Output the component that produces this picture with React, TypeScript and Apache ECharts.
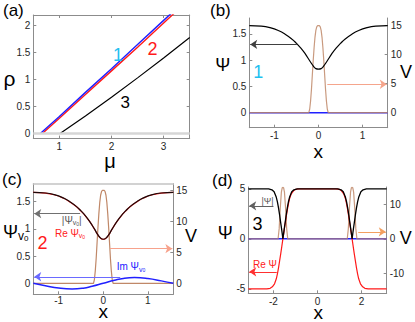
import React, { useEffect, useRef } from "react";
import * as echarts from "echarts";

const FONT = "'Liberation Sans', Arial, Helvetica, sans-serif";
const AXIS = "#8c8c8c";
const LABEL = "#262626";
const VCOL = "#c08868";

// ---------- (a) rho versus mu ----------
const muTicks = [1, 2, 3];
const rhoTicks = [0, 0.5, 1, 1.5, 2];
const branch1 = [[0.64, 0], [1, 0.31], [1.5, 0.76], [2, 1.2], [2.5, 1.65], [3, 2.1], [3.3, 2.37]];
const branch2 = [[0.68, 0], [1, 0.28], [1.5, 0.72], [2, 1.16], [2.5, 1.6], [3, 2.05], [3.3, 2.32]];
const branch3 = [[1.02, 0], [1.5, 0.32], [2, 0.67], [2.5, 1.03], [3, 1.4], [3.5, 1.78]];

// ---------- (b) ----------
const xTicksBC = [-1, 0, 1];
const psiTicksBC = [0, 0.5, 1, 1.5];
const vTicksBC = [0, 5, 10, 15];
const absPsiB = [
  [-1.5708, 1.66], [-1.3, 1.65], [-1.1, 1.62], [-0.9, 1.56], [-0.75, 1.49], [-0.6, 1.4], [-0.5, 1.32],
  [-0.4, 1.23], [-0.3, 1.12], [-0.2, 0.99], [-0.12, 0.89], [-0.06, 0.84], [0, 0.83], [0.06, 0.84],
  [0.12, 0.89], [0.2, 0.99], [0.3, 1.12], [0.4, 1.23], [0.5, 1.32], [0.6, 1.4], [0.75, 1.49],
  [0.9, 1.56], [1.1, 1.62], [1.3, 1.65], [1.5708, 1.66],
];
const imPsiB = [[-1.5708, 0], [1.5708, 0]];
const vCentre = [
  [-1.5708, 0], [-0.22, 0], [-0.2, 0.6], [-0.18, 2.0], [-0.16, 4.0], [-0.14, 6.5], [-0.12, 9.0],
  [-0.1, 11.2], [-0.08, 13.0], [-0.06, 14.2], [-0.04, 14.8], [-0.02, 15.0], [0, 15.0], [0.02, 15.0],
  [0.04, 14.8], [0.06, 14.2], [0.08, 13.0], [0.1, 11.2], [0.12, 9.0], [0.14, 6.5], [0.16, 4.0],
  [0.18, 2.0], [0.2, 0.6], [0.22, 0], [1.5708, 0],
];

// ---------- (c) ----------
const absPsiC = [
  [-1.5708, 1.67], [-1.3, 1.66], [-1.1, 1.63], [-0.9, 1.57], [-0.75, 1.5], [-0.6, 1.41], [-0.5, 1.33],
  [-0.4, 1.24], [-0.3, 1.13], [-0.2, 1.0], [-0.12, 0.89], [-0.06, 0.83], [0, 0.81], [0.06, 0.83],
  [0.12, 0.89], [0.2, 1.0], [0.3, 1.13], [0.4, 1.24], [0.5, 1.33], [0.6, 1.41], [0.75, 1.5],
  [0.9, 1.57], [1.1, 1.63], [1.3, 1.66], [1.5708, 1.67],
];
const rePsiC = [
  [-1.5708, 1.67], [-1.3, 1.659], [-1.1, 1.628], [-0.9, 1.567], [-0.75, 1.496], [-0.6, 1.406], [-0.5, 1.327],
  [-0.4, 1.237], [-0.3, 1.128], [-0.2, 0.999], [-0.12, 0.889], [-0.06, 0.829], [0, 0.81], [0.06, 0.829],
  [0.12, 0.889], [0.2, 0.999], [0.3, 1.128], [0.4, 1.237], [0.5, 1.327], [0.6, 1.406], [0.75, 1.496],
  [0.9, 1.567], [1.1, 1.628], [1.3, 1.659], [1.5708, 1.67],
];
const imPsiC = [
  [-1.5708, 0], [-1.3, -0.045], [-1.0, -0.088], [-0.7, -0.105], [-0.45, -0.09], [-0.25, -0.055], [0, 0],
  [0.25, 0.055], [0.45, 0.09], [0.7, 0.105], [1.0, 0.088], [1.3, 0.045], [1.5708, 0],
];

// ---------- (d) ----------
const xTicksD = [-2, 0, 2];
const psiTicksD = [-5, 0, 5];
const vTicksD = [-10, 0, 10];
const absPsiD = [
  [-3.1416, 5.0], [-2.22, 5.0], [-2.07, 4.9], [-1.97, 4.7], [-1.87, 4.15], [-1.82, 3.7], [-1.77, 3.1],
  [-1.72, 2.4], [-1.67, 1.6], [-1.63, 1.0], [-1.6, 0.5], [-1.5708, 0], [-1.54, 0.5], [-1.51, 1.0],
  [-1.47, 1.6], [-1.42, 2.4], [-1.37, 3.1], [-1.32, 3.7], [-1.27, 4.15], [-1.17, 4.7], [-1.07, 4.9],
  [-0.92, 5.0], [0.92, 5.0], [1.07, 4.9], [1.17, 4.7], [1.27, 4.15], [1.32, 3.7], [1.37, 3.1],
  [1.42, 2.4], [1.47, 1.6], [1.51, 1.0], [1.54, 0.5], [1.5708, 0], [1.6, 0.5], [1.63, 1.0],
  [1.67, 1.6], [1.72, 2.4], [1.77, 3.1], [1.82, 3.7], [1.87, 4.15], [1.97, 4.7], [2.07, 4.9],
  [2.22, 5.0], [3.1416, 5.0],
];
const rePsiD = [
  [-3.1416, -5.0], [-2.3, -5.0], [-2.15, -4.95], [-2.05, -4.8], [-1.95, -4.5], [-1.87, -4.0], [-1.82, -3.5],
  [-1.77, -2.9], [-1.72, -2.2], [-1.67, -1.5], [-1.62, -0.75], [-1.5708, 0], [-1.52, 0.75], [-1.47, 1.5],
  [-1.42, 2.2], [-1.37, 2.9], [-1.32, 3.5], [-1.27, 4.0], [-1.19, 4.5], [-1.09, 4.8], [-0.99, 4.95],
  [-0.84, 5.0], [0.84, 5.0], [0.99, 4.95], [1.09, 4.8], [1.19, 4.5], [1.27, 4.0], [1.32, 3.5],
  [1.37, 2.9], [1.42, 2.2], [1.47, 1.5], [1.52, 0.75], [1.5708, 0], [1.62, -0.75], [1.67, -1.5],
  [1.72, -2.2], [1.77, -2.9], [1.82, -3.5], [1.87, -4.0], [1.95, -4.5], [2.05, -4.8], [2.15, -4.95],
  [2.3, -5.0], [3.1416, -5.0],
];
const imPsiD = [[-3.1416, 0], [3.1416, 0]];
const vD = [
  [-3.1416, 0], [-1.79, 0], [-1.74, 3.0], [-1.69, 9.0], [-1.64, 13.6], [-1.6, 14.9], [-1.57, 15.0],
  [-1.54, 14.9], [-1.5, 13.6], [-1.45, 9.0], [-1.4, 3.0], [-1.35, 0], [1.35, 0], [1.4, 3.0],
  [1.45, 9.0], [1.5, 13.6], [1.54, 14.9], [1.57, 15.0], [1.6, 14.9], [1.64, 13.6], [1.69, 9.0],
  [1.74, 3.0], [1.79, 0], [3.1416, 0],
];

const xAx = (gridIndex: number, min: number, max: number, ticks: number[], extra: any = {}) => ({
  type: "value",
  gridIndex,
  min,
  max,
  position: "bottom",
  axisLine: { show: true, onZero: false, lineStyle: { color: AXIS, width: 1 } },
  axisTick: { show: true, inside: true, length: 3, lineStyle: { color: AXIS }, customValues: ticks },
  axisLabel: { show: true, customValues: ticks, color: LABEL, fontSize: 10, fontFamily: FONT, margin: 3.5, lineHeight: 9 },
  splitLine: { show: false },
  ...extra,
});
const yAx = (gridIndex: number, min: number, max: number, ticks: number[], position: string, extra: any = {}) => ({
  type: "value",
  gridIndex,
  min,
  max,
  position,
  axisLine: { show: true, onZero: false, lineStyle: { color: AXIS, width: 1 } },
  axisTick: { show: true, inside: true, length: 3, lineStyle: { color: AXIS }, customValues: ticks },
  axisLabel: { show: true, customValues: ticks, color: LABEL, fontSize: 10, fontFamily: FONT, margin: 3 },
  splitLine: { show: false },
  ...extra,
});

const line = (data: number[][], xi: number, yi: number, color: string, width: number, extra: any = {}) => ({
  type: "line",
  data,
  xAxisIndex: xi,
  yAxisIndex: yi,
  showSymbol: false,
  symbol: "none",
  lineStyle: { color, width },
  itemStyle: { color },
  emphasis: { disabled: true },
  animation: false,
  ...extra,
});
const arrow = (from: number[], to: number[], color: string) => ({
  silent: true,
  symbol: ["none", "arrow"],
  symbolSize: 7,
  animation: false,
  emphasis: { disabled: true },
  label: { show: false },
  lineStyle: { color, width: 1, type: "solid" },
  data: [[{ coord: from }, { coord: to }]],
});

const txt = (x: number, y: number, text: string, size: number, color: string, extra: any = {}) => ({
  type: "text",
  x,
  y,
  z: 50,
  silent: true,
  style: { text, fill: color, fontSize: size, fontFamily: FONT, align: "center", verticalAlign: "middle", ...extra },
});
const subTxt = (x: number, y: number, parts: string, sizes: number[], color: string, align = "left") => ({
  type: "text",
  x,
  y,
  z: 50,
  silent: true,
  style: {
    text: parts,
    align,
    verticalAlign: "middle",
    rich: {
      m: { fontSize: sizes[0], fontFamily: FONT, fill: color, color, lineHeight: sizes[0] + 2 },
      s: { fontSize: sizes[1], fontFamily: FONT, fill: color, color, lineHeight: sizes[1], verticalAlign: "bottom" },
      t: { fontSize: sizes[2], fontFamily: FONT, fill: color, color, lineHeight: Math.max(2, sizes[2] - 4), verticalAlign: "bottom" },
    },
  },
});

export default function App() {
  const ref = useRef<HTMLDivElement>(null);
  useEffect(() => {
    if (!ref.current) return;
    const chart = echarts.init(ref.current, null, { renderer: "svg" });
    const option: any = {
      animation: false,
      backgroundColor: "#ffffff",
      grid: [
        { left: 33.3, top: 15, width: 156.4, height: 123.6, outerBoundsMode: "none" },
        { left: 249.3, top: 18, width: 138.4, height: 109.7, outerBoundsMode: "none" },
        { left: 33.3, top: 183.7, width: 140, height: 110.6, outerBoundsMode: "none" },
        { left: 248.3, top: 187, width: 138.4, height: 106.3, outerBoundsMode: "none" },
      ],
      xAxis: [
        xAx(0, 0.5, 3.5, muTicks, {
          axisLabel: { show: true, customValues: muTicks, color: LABEL, fontSize: 10, fontFamily: FONT, margin: 3, lineHeight: 9 },
        }),
        xAx(0, 0.5, 3.5, muTicks, { position: "top", axisLabel: { show: false } }),
        xAx(1, -1.5708, 1.5708, xTicksBC),
        xAx(2, -1.5708, 1.5708, xTicksBC, {
          axisLabel: { show: true, customValues: xTicksBC, color: LABEL, fontSize: 10, fontFamily: FONT, margin: 2, lineHeight: 9 },
        }),
        xAx(2, -1.5708, 1.5708, xTicksBC, {
          position: "top",
          axisLine: { show: true, onZero: false, lineStyle: { color: "#c4c4c4", width: 1.5 } },
          axisTick: { show: false },
          axisLabel: { show: false },
        }),
        xAx(3, -3.1416, 3.1416, xTicksD, {
          axisLabel: { show: true, customValues: xTicksD, color: LABEL, fontSize: 10, fontFamily: FONT, margin: 3.5, lineHeight: 9 },
        }),
      ],
      yAxis: [
        yAx(0, -0.1, 2.2, rhoTicks, "left"),
        yAx(0, -0.1, 2.2, rhoTicks, "right", { axisLabel: { show: false } }),
        yAx(1, -0.286, 1.804, psiTicksBC, "left"),
        yAx(1, -2.59, 16.33, vTicksBC, "right"),
        yAx(2, -0.202, 1.831, psiTicksBC, "left"),
        yAx(2, -1.77, 16.06, vTicksBC, "right"),
        yAx(3, -5.45, 5.18, psiTicksD, "left"),
        yAx(3, -15.8, 15.1, vTicksD, "right"),
      ],
      series: [
        // (a)
        line(branch1, 0, 0, "#1f1fff", 1.4, {
          markLine: {
            silent: true,
            symbol: "none",
            animation: false,
            label: { show: false },
            emphasis: { disabled: true },
            lineStyle: { color: "#d6d6d6", width: 2.5, type: "solid" },
            data: [{ yAxis: 0 }],
          },
          z: 3,
        }),
        line(branch2, 0, 0, "#ff1a1a", 1.4, { z: 2 }),
        line(branch3, 0, 0, "#000000", 1.2),
        // (b)
        line(imPsiB, 2, 2, "#2020ff", 1.5),
        line(vCentre, 2, 3, VCOL, 1.2, {
          lineStyle: { color: VCOL, width: 1.2, opacity: 0.85 },
          markLine: arrow([0.2, 4.9], [1.55, 4.9], "#f5a58c"),
        }),
        line(absPsiB, 2, 2, "#000000", 1.2, { smooth: true, markLine: arrow([-0.49, 1.3], [-1.55, 1.3], "#404040") }),
        // (c)
        line(vCentre, 3, 5, VCOL, 1.2, { markLine: arrow([0.15, 5.58], [1.55, 5.58], "#f7a28c") }),
        line(imPsiC, 3, 4, "#2020ff", 1.5, { smooth: true, markLine: arrow([0.38, 0.12], [-1.55, 0.12], "#6a6aff") }),
        line(rePsiC, 3, 4, "#ff2020", 1.2, { smooth: true }),
        line(absPsiC, 3, 4, "#1a0a0a", 1.2, { smooth: true, markLine: arrow([-0.52, 1.28], [-1.55, 1.28], "#707070") }),
        // (d)
        line(imPsiD, 5, 6, "#2020ff", 1.5),
        line(vD, 5, 7, VCOL, 1.2, {
          lineStyle: { color: VCOL, width: 1.2, opacity: 0.85 },
          markLine: arrow([1.85, 2.06], [3.1, 2.06], "#f3a060"),
        }),
        line(rePsiD, 5, 6, "#ff1a1a", 1.2, { markLine: arrow([-1.85, -3.3], [-3.1, -3.3], "#ff3030") }),
        line(absPsiD, 5, 6, "#000000", 1.3, { markLine: arrow([-2.0, 3.3], [-3.1, 3.3], "#606060") }),
      ],
      graphic: [
        // panel tags
        txt(3, 10, "(a)", 17, "#000", { align: "left" }),
        txt(210, 10, "(b)", 17, "#000", { align: "left" }),
        txt(2, 179, "(c)", 17, "#000", { align: "left" }),
        txt(212, 180, "(d)", 17, "#000", { align: "left" }),
        // (a)
        txt(9.5, 78, "ρ", 21, "#000"),
        txt(110, 160.5, "μ", 20, "#000", { lineHeight: 10 }),
        txt(118, 55, "1", 18, "#1ec0f0"),
        txt(152.5, 48.5, "2", 18, "#ff1a1a"),
        txt(125.3, 102.5, "3", 17, "#000"),
        // (b)
        txt(222.8, 65, "Ψ", 18, "#000"),
        txt(406, 72, "V", 18, "#000"),
        txt(318.3, 151, "x", 19, "#000", { lineHeight: 10 }),
        txt(258.3, 71.7, "1", 18, "#1ec0f0"),
        // (c)
        subTxt(3, 232, "{m|Ψ}{s|v}{t|0}", [18, 12, 8], "#000"),
        txt(191, 236, "V", 18, "#000"),
        txt(103.3, 311.5, "x", 19, "#000", { lineHeight: 10 }),
        txt(42.5, 242.5, "2", 18, "#ff1a1a"),
        subTxt(71.7, 220, "{m|\u007CΨ}{s|v}{t|0}{m|\u007C}", [10, 7, 5], "#555555", "center"),
        subTxt(70, 233, "{m|Re Ψ}{s|v}{t|0}", [10, 7, 5], "#ff2020", "center"),
        subTxt(116.7, 266.5, "{m|Im Ψ}{s|v}{t|0}", [10, 7, 5], "#2020ff", "left"),
        // (d)
        txt(225.3, 233, "Ψ", 18, "#000"),
        txt(405.8, 238.3, "V", 18, "#000"),
        txt(318.3, 312, "x", 19, "#000", { lineHeight: 10 }),
        txt(257.5, 223.8, "3", 18, "#000"),
        txt(267.5, 200.5, "|Ψ|", 9, "#555555"),
        txt(265, 264.7, "Re Ψ", 10, "#ff2020"),
      ],
    };
    chart.setOption(option);
    return () => chart.dispose();
  }, []);
  return <div ref={ref} style={{ position: "absolute", left: 0, top: 0, width: 415, height: 322 }} />;
}
